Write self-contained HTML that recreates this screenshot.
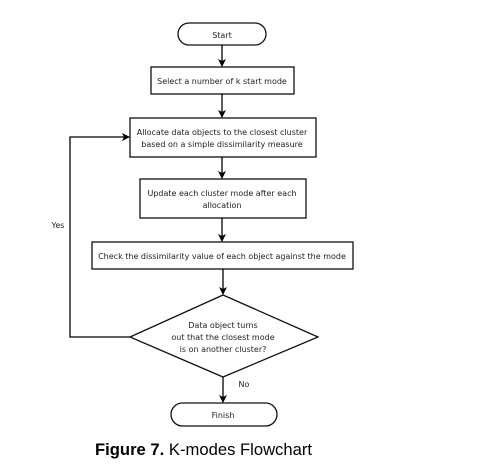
<!DOCTYPE html>
<html><head><style>
body{margin:0;background:#fff;width:491px;height:471px;overflow:hidden}
svg text{font-family:"DejaVu Sans","Liberation Sans",sans-serif;font-size:8px;fill:#222}
</style></head><body>
<svg width="491" height="471" viewBox="0 0 491 471" xmlns="http://www.w3.org/2000/svg">
<defs><marker id="a" markerWidth="8" markerHeight="8" refX="7" refY="4" orient="auto" markerUnits="userSpaceOnUse"><path d="M0,0 L8,4 L0,8 L2,4z" fill="#000"/></marker></defs>
<g stroke="#111" stroke-width="1.3" fill="#fff">
<rect x="178" y="23" width="88" height="22" rx="11"/>
<rect x="151" y="67" width="143" height="27"/>
<rect x="130" y="118" width="186" height="39"/>
<rect x="140" y="179" width="166" height="39"/>
<rect x="92" y="242" width="261" height="27"/>
<polygon points="223,295 318,337 223,377 130,337"/>
<rect x="171" y="403" width="106" height="23" rx="11.5"/>
</g>
<g stroke="#000" stroke-width="1.3" fill="none" marker-end="url(#a)">
<line x1="222" y1="45" x2="222" y2="66"/>
<line x1="222" y1="94" x2="222" y2="117"/>
<line x1="222" y1="157" x2="222" y2="178"/>
<line x1="222" y1="218" x2="222" y2="241"/>
<line x1="223" y1="269" x2="223" y2="294"/>
<line x1="223" y1="377" x2="223" y2="402"/>
<polyline points="130,337 70,337 70,137 129,137"/>
</g>
<text x="222" y="38" text-anchor="middle">Start</text>
<text x="222" y="84" text-anchor="middle">Select a number of k start mode</text>
<text x="222" y="135" text-anchor="middle">Allocate data objects to the closest cluster</text>
<text x="222" y="147" text-anchor="middle">based on a simple dissimilarity measure</text>
<text x="222" y="196" text-anchor="middle">Update each cluster mode after each</text>
<text x="222" y="208" text-anchor="middle">allocation</text>
<text x="222" y="259" text-anchor="middle">Check the dissimilarity value of each object against the mode</text>
<text x="223" y="328" text-anchor="middle">Data object turns</text>
<text x="223" y="340" text-anchor="middle">out that the closest mode</text>
<text x="223" y="352" text-anchor="middle">is on another cluster?</text>
<text x="223" y="418" text-anchor="middle">Finish</text>
<text x="58" y="228" text-anchor="middle">Yes</text>
<text x="244" y="387" text-anchor="middle">No</text>
<text x="95" y="455" textLength="217" style="font-family:'Liberation Sans',sans-serif;font-size:16.6px;fill:#000"><tspan font-weight="bold">Figure 7.</tspan> K-modes Flowchart</text>
</svg>
</body></html>
